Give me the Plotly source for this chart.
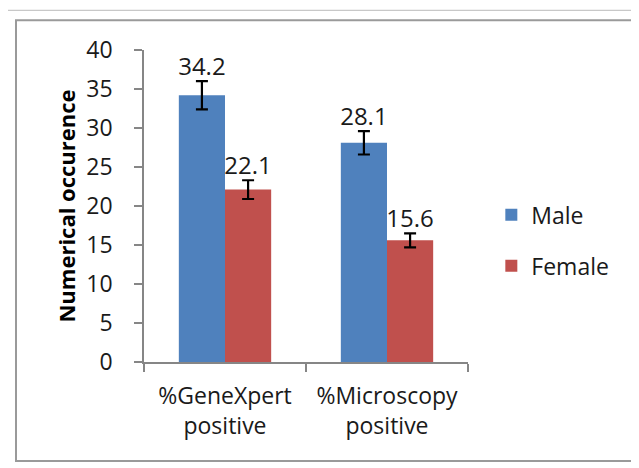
import plotly.graph_objects as go

categories = ["%GeneXpert<br>positive", "%Microscopy<br>positive"]
male_values = [34.2, 28.1]
female_values = [22.1, 15.6]
male_errors = [1.8, 1.5]
female_errors = [1.2, 0.9]
series_names = ["Male", "Female"]
y_ticks = [0, 5, 10, 15, 20, 25, 30, 35, 40]

BLUE = "#4F81BD"
RED = "#C0504D"
FONT = "Open Sans"
TXT = "#1a1a1a"
bar_w = 0.285
idx = list(range(len(categories)))
male_x = [i - bar_w / 2 for i in idx]
female_x = [i + bar_w / 2 for i in idx]

fig = go.Figure()
fig.add_trace(go.Bar(
    x=male_x, y=male_values, width=bar_w, name=series_names[0], legendgroup="m",
    marker=dict(color=BLUE, line=dict(width=0)),
    error_y=dict(type="data", array=male_errors, color="black", thickness=2.2, width=6),
))
fig.add_trace(go.Bar(
    x=female_x, y=female_values, width=bar_w, name=series_names[1], legendgroup="f",
    marker=dict(color=RED, line=dict(width=0)),
    error_y=dict(type="data", array=female_errors, color="black", thickness=2.2, width=6),
))
# data labels above error bars
fig.add_trace(go.Scatter(
    x=male_x + female_x,
    y=[v + e for v, e in zip(male_values, male_errors)] + [v + e for v, e in zip(female_values, female_errors)],
    mode="text",
    text=[f"{v:.1f}" for v in male_values + female_values],
    textposition="top center",
    textfont=dict(family=FONT, size=24, color=TXT),
    showlegend=False, hoverinfo="skip",
))

fig.update_layout(
    width=639, height=468,
    margin=dict(l=136, r=179, t=42, b=114),
    paper_bgcolor="white", plot_bgcolor="white",
    barmode="overlay",
    font=dict(family=FONT, size=22, color=TXT),
    showlegend=True,
    legend=dict(
        x=1.072, xanchor="left", y=0.39, yanchor="middle",
        font=dict(family=FONT, size=23, color=TXT),
        traceorder="grouped", tracegroupgap=18,
        bgcolor="rgba(0,0,0,0)",
    ),
    xaxis=dict(
        range=[-0.5, 1.5],
        tickvals=idx, ticktext=categories,
        ticks="", showline=True, linecolor="#868686", linewidth=1.5,
        showgrid=False, zeroline=False,
        tickfont=dict(family=FONT, size=23, color=TXT),
        ticklabelstandoff=13,
        minor=dict(tickvals=[-0.5, 0.5, 1.5], ticks="outside", ticklen=8,
                   tickcolor="#868686", tickwidth=1.5),
    ),
    yaxis=dict(
        range=[0, 40], tickvals=y_ticks,
        ticks="outside", ticklen=8, tickcolor="#868686", tickwidth=1.5,
        showline=True, linecolor="#868686", linewidth=1.5,
        showgrid=False, zeroline=False,
        tickfont=dict(family=FONT, size=23, color=TXT),
        ticklabelstandoff=17,
        title=dict(text="<b>Numerical occurence</b>", standoff=5,
                   font=dict(family=FONT, size=22, color="black")),
    ),
)

# outer frame (light) and chart frame (darker)
fig.add_shape(type="rect", xref="paper", yref="paper",
              x0=(7 - 144) / 324, x1=(660 - 144) / 324,
              y0=(363 - 490) / 312.3, y1=(363 - 11) / 312.3,
              line=dict(color="#c8c8c8", width=1.2), layer="below")
fig.add_shape(type="rect", xref="paper", yref="paper",
              x0=(16 - 144) / 324, x1=(645 - 144) / 324,
              y0=(363 - 462) / 312.3, y1=(363 - 21) / 312.3,
              line=dict(color="#9a9a9a", width=2), layer="below")

fig.write_html("out.html")
